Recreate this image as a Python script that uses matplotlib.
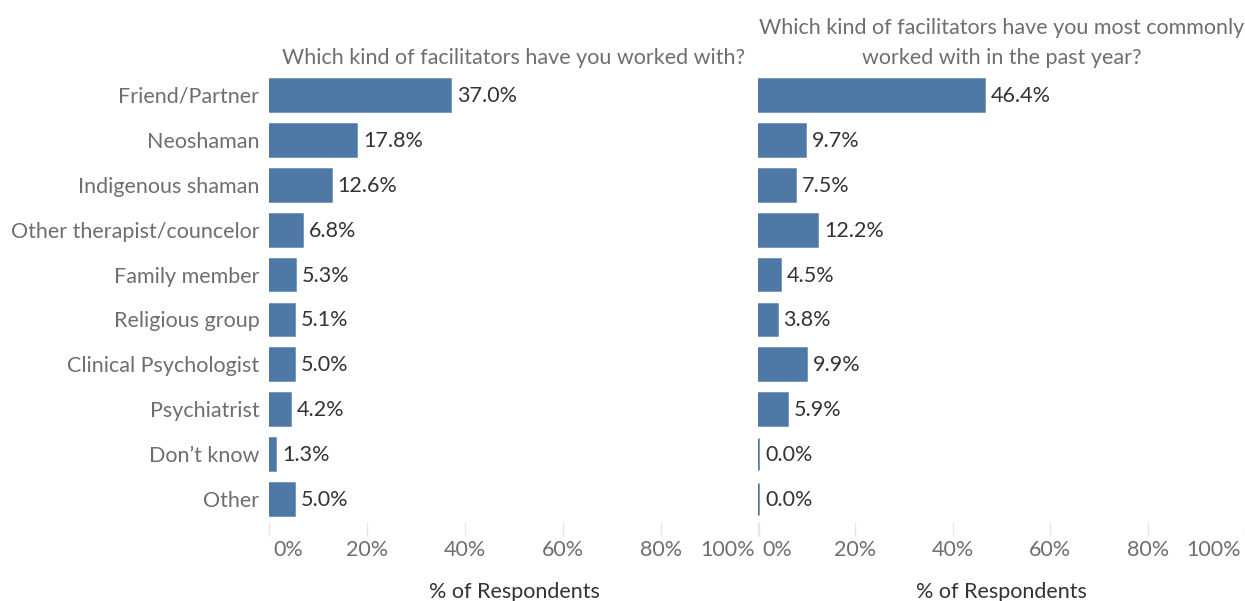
import matplotlib
matplotlib.use("Agg")
import matplotlib.pyplot as plt
from matplotlib.transforms import offset_copy

plt.rcParams['font.family'] = ['Lato', 'DejaVu Sans']

categories = ["Friend/Partner", "Neoshaman", "Indigenous shaman",
              "Other therapist/councelor", "Family member", "Religious group",
              "Clinical Psychologist", "Psychiatrist", "Don\u2019t know", "Other"]
worked_with = [37.0, 17.8, 12.6, 6.8, 5.3, 5.1, 5.0, 4.2, 1.3, 5.0]
past_year = [46.4, 9.7, 7.5, 12.2, 4.5, 3.8, 9.9, 5.9, 0.0, 0.0]
x_ticks = [0, 20, 40, 60, 80, 100]
x_tick_labels = ["0%", "20%", "40%", "60%", "80%", "100%"]
titles = ["Which kind of facilitators have you worked with?",
          "Which kind of facilitators have you most commonly\nworked with in the past year?"]
x_title = "% of Respondents"

BAR = "#4e79a7"
LABEL_GRAY = "#6e6e6e"
DARK = "#333333"
FS = 15.5
W, H = 1245, 601

fig = plt.figure(figsize=(W / 100, H / 100), dpi=100)
bottom = 1 - 521.5 / H
top = 1 - 72.5 / H
panels = [(269, 759), (758, 1245)]
series = [worked_with, past_year]

for i, ((x0, x1), vals, title) in enumerate(zip(panels, series, titles)):
    ax = fig.add_axes([x0 / W, bottom, (x1 - x0) / W, top - bottom])
    ypos = list(range(len(categories)))
    ax.barh(ypos, vals, height=0.71, color=BAR, edgecolor=BAR, linewidth=1.8)
    ax.set_xlim(0, 100)
    ax.set_ylim(len(categories) - 0.5, -0.5)
    for s in ax.spines.values():
        s.set_visible(False)
    ax.set_yticks(ypos)
    if i == 0:
        ax.set_yticklabels(categories, fontsize=FS, color=LABEL_GRAY)
        ax.tick_params(axis='y', length=0, pad=7)
    else:
        ax.set_yticklabels([])
        ax.tick_params(axis='y', length=0)
    ax.set_xticks(x_ticks)
    ax.set_xticklabels([])
    ax.tick_params(axis='x', length=10, width=1, color="#e6e6e6", direction='out')

    # tick labels, edge ones pulled inside the axis span
    tr = ax.get_xaxis_transform()
    for j, (t, lab) in enumerate(zip(x_ticks, x_tick_labels)):
        if j == 0:
            ha, dx = 'left', 4
        elif j == len(x_ticks) - 1:
            ha, dx = 'right', -4
        else:
            ha, dx = 'center', 0
        ax.text(t, 0, lab, transform=offset_copy(tr, fig=fig, x=dx, y=-29, units='dots'),
                ha=ha, va='center', fontsize=FS, color=LABEL_GRAY)

    # value labels
    for y, v in zip(ypos, vals):
        ax.text(v, y, f"{v:.1f}%",
                transform=offset_copy(ax.transData, fig=fig, x=7, y=-1, units='dots'),
                ha='left', va='center', fontsize=FS, color=DARK)

    # panel title, one line at a time from the bottom up
    for k, line in enumerate(reversed(title.split("\n"))):
        ax.text(0.5, 1.0, line,
                transform=offset_copy(ax.transAxes, fig=fig, x=0, y=14 + 31 * k, units='dots'),
                ha='center', va='center', fontsize=FS, color=LABEL_GRAY)
    ax.text(0.5, 0, x_title, transform=offset_copy(ax.transAxes, fig=fig, x=0, y=-70, units='dots'),
            ha='center', va='center', fontsize=FS, color=DARK)

fig.savefig("out.png", dpi=100)
